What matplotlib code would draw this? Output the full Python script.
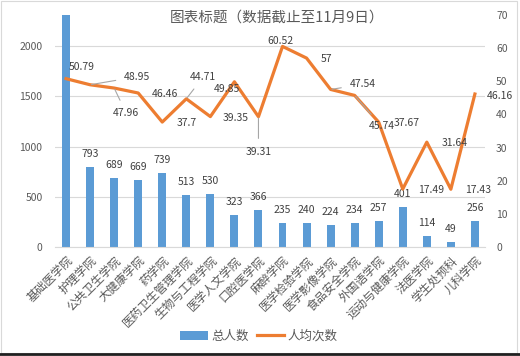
import numpy as np
import matplotlib.pyplot as plt
from matplotlib.patches import Rectangle, Patch
from matplotlib.lines import Line2D

plt.rcParams['font.family'] = ['Noto Sans CJK SC', 'DejaVu Sans']

colleges = ['基础医学院', '护理学院', '公共卫生学院', '大健康学院', '药学院',
            '医药卫生管理学院', '生物与工程学院', '医学人文学院', '口腔医学院',
            '麻醉学院', '医学检验学院', '医学影像学院', '食品安全学院',
            '外国语学院', '运动与健康学院', '法医学院', '学生处预科', '儿科学院']
total = [2350, 793, 689, 669, 739, 513, 530, 323, 366,
         235, 240, 224, 234, 257, 401, 114, 49, 256]
per_person = [50.79, 48.95, 47.96, 46.46, 37.7, 44.71, 39.35, 49.85, 39.31,
              60.52, 57, 47.54, 45.74, 37.67, 17.49, 31.64, 17.43, 46.16]

# label offsets (pixels) for the line values, and whether a leader line is drawn
line_offsets = [(16, 12), (47, 8), (12, -25), (27, -1), (24, -1), (17, 22),
                (25, -1), (-7, -7), (0, -35), (-2, 5), (20, -1), (32, 5),
                (27, -31), (28, -1), (28, -1), (28, -1), (27, -1), (25, -2)]
leaders = {1, 2, 5, 8, 11, 12}

grey = '#595959'
blue = '#5B9BD5'
orange = '#ED7D31'

fig = plt.figure(figsize=(5.2, 3.56), dpi=100)
ax = fig.add_axes([55 / 520, 1 - 247 / 356, 430 / 520, 232 / 356])
ax2 = ax.twinx()

x = np.arange(len(colleges))
ax.bar(x, total, width=0.33, color=blue, zorder=2)
ax.set_ylim(0, 2310)
ax.set_xlim(-0.46, 17.42)
ax.set_yticks([0, 500, 1000, 1500, 2000])
ax.grid(axis='y', color='#D9D9D9', linewidth=0.8, zorder=0)
ax.set_axisbelow(True)
for s in ['top', 'right', 'left']:
    ax.spines[s].set_visible(False)
ax.spines['bottom'].set_color('#D9D9D9')
ax.tick_params(axis='both', length=0, colors=grey, labelsize=7.5)
ax.tick_params(axis='y', pad=9)
ax.set_xticks(x)
ax.set_xticklabels(colleges, rotation=45, ha='right', rotation_mode='anchor',
                   fontsize=8.5, color=grey)
ax.tick_params(axis='x', pad=5)

for xi, v in zip(x, total):
    if v < 2310:
        ax.annotate(str(v), (xi, v), xytext=(0, 13), textcoords='offset pixels',
                    ha='center', va='center', fontsize=7.5, color='#404040')

ax2.plot(x, per_person, color=orange, linewidth=2.3, zorder=3)
ax2.set_ylim(0, 70)
ax2.set_yticks(range(0, 80, 10))
for s in ax2.spines.values():
    s.set_visible(False)
ax2.tick_params(axis='y', length=0, colors=grey, labelsize=7.5, pad=8)

for i, (xi, v) in enumerate(zip(x, per_person)):
    dx, dy = line_offsets[i]
    props = None
    if i in leaders:
        props = dict(arrowstyle='-', color='#A6A6A6', lw=0.8, shrinkA=4, shrinkB=1)
    ax2.annotate(f'{v:g}', (xi, v), xytext=(dx, dy), textcoords='offset pixels',
                 ha='center', va='center', fontsize=7.5, color='#404040',
                 arrowprops=props)

fig.text(277 / 520, 1 - 18 / 356, '图表标题（数据截止至11月9日）',
         ha='center', va='center', fontsize=10.5, color=grey)

handles = [Patch(facecolor=blue), Line2D([0], [0], color=orange, lw=2.3)]
fig.legend(handles, ['总人数', '人均次数'], loc='center', ncol=2,
           bbox_to_anchor=(259 / 520, 20 / 356), frameon=False,
           fontsize=9, labelcolor=grey, handlelength=2.2, handletextpad=0.3,
           columnspacing=0.6)

fig.patches.append(Rectangle((0.5 / 520, 3 / 356), 516 / 520, 352.5 / 356,
                             transform=fig.transFigure, fill=False,
                             edgecolor='#D9D9D9', linewidth=0.8))
fig.add_artist(Line2D([0, 1], [2.5 / 356, 2.5 / 356], transform=fig.transFigure,
                      color='#202020', linewidth=2))

fig.savefig('out.png', dpi=100)
